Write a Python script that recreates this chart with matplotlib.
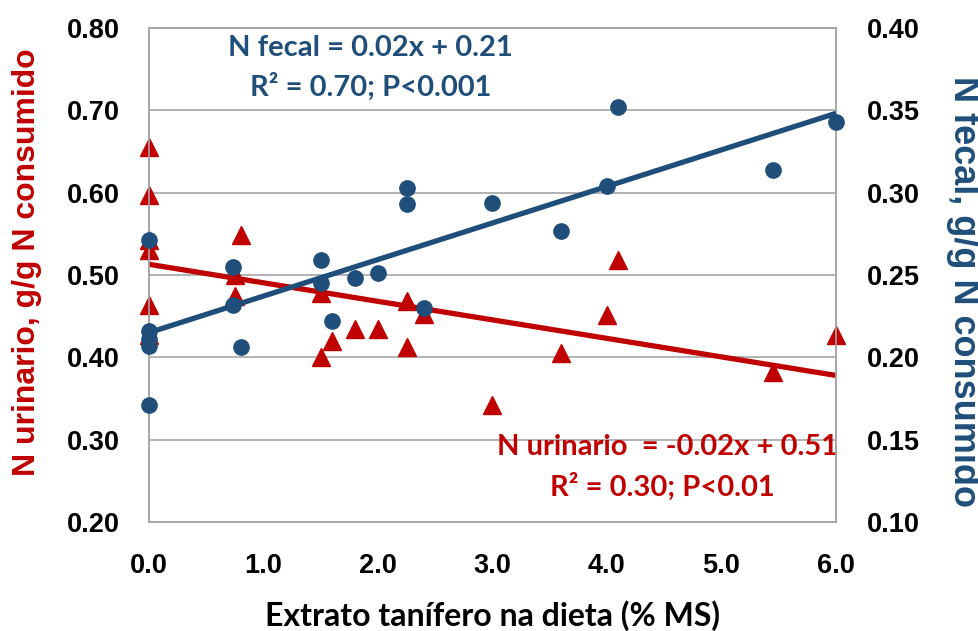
import matplotlib
matplotlib.use("Agg")
import matplotlib.pyplot as plt
import numpy as np

plt.rcParams['font.family'] = ['Lato', 'DejaVu Sans']
plt.rcParams['font.weight'] = 'bold'

# Data
x_urin = [0, 0, 0, 0, 0, 0, 0.75, 0.75, 0.8, 1.5, 1.5, 1.6, 1.8, 2.0, 2.25, 2.25, 2.4,
          3.0, 3.6, 4.0, 4.1, 5.45, 6.0]
y_urin = [0.655, 0.597, 0.542, 0.530, 0.463, 0.427, 0.500, 0.475, 0.548, 0.478, 0.400,
          0.420, 0.435, 0.435, 0.469, 0.412, 0.453, 0.342, 0.405, 0.451, 0.518, 0.382, 0.427]

x_fec = [0, 0, 0, 0, 0, 0.73, 0.73, 0.8, 1.5, 1.5, 1.6, 1.8, 2.0, 2.25, 2.25, 2.4,
         3.0, 3.6, 4.0, 4.1, 5.45, 6.0]
y_fec = [0.271, 0.216, 0.211, 0.207, 0.171, 0.255, 0.232, 0.206, 0.259, 0.245, 0.222,
         0.248, 0.251, 0.303, 0.293, 0.230, 0.294, 0.277, 0.304, 0.352, 0.314, 0.343]

# Trend lines (slope, intercept) as drawn in the reference
urin_fit = (-0.0225, 0.513)
fec_fit = (0.0222, 0.215)

x_ticks = [0, 1, 2, 3, 4, 5, 6]
y_left_ticks = [0.2, 0.3, 0.4, 0.5, 0.6, 0.7, 0.8]
y_right_ticks = [0.10, 0.15, 0.20, 0.25, 0.30, 0.35, 0.40]

RED = '#C00000'
BLUE = '#1F4E7A'
GRID = '#A6A6A6'
ARIAL = ['Liberation Sans', 'DejaVu Sans']

fig = plt.figure(figsize=(9.79, 6.31), dpi=100)
ax = fig.add_axes([149/979, 1-522/631, 687/979, 494/631])
ax2 = ax.twinx()

ax.set_xlim(0, 6)
ax.set_ylim(0.2, 0.8)
ax2.set_ylim(0.1, 0.4)

tick_kw = dict(family=ARIAL, fontsize=19.5, fontweight='bold')
ax.set_xticks(x_ticks)
ax.set_xticklabels([f"{v:.1f}" for v in x_ticks], **tick_kw)
ax.set_yticks(y_left_ticks)
ax.set_yticklabels([f"{v:.2f}" for v in y_left_ticks], **tick_kw)
ax2.set_yticks(y_right_ticks)
ax2.set_yticklabels([f"{v:.2f}" for v in y_right_ticks], **tick_kw)

ax.grid(axis='y', color=GRID, linewidth=1.2)
ax.set_axisbelow(True)
for a in (ax, ax2):
    for s in a.spines.values():
        s.set_color(GRID)
        s.set_linewidth(1.2)
ax.tick_params(axis='both', length=0)
ax.tick_params(axis='y', pad=21)
ax.tick_params(axis='x', pad=22)
ax2.tick_params(axis='y', length=0, pad=22)

# Urinary N (left axis)
ax.plot(x_urin, y_urin, linestyle='none', marker='^', markersize=12.5,
        color=RED, clip_on=False, zorder=3)
xl = np.array([0, 6])
ax.plot(xl, urin_fit[0]*xl + urin_fit[1], color=RED, linewidth=3.8,
        solid_capstyle='butt', zorder=4)

# Fecal N (right axis)
ax2.plot(x_fec, y_fec, linestyle='none', marker='o', markersize=11,
         color=BLUE, clip_on=False, zorder=3)
ax2.plot(xl, fec_fit[0]*xl + fec_fit[1], color=BLUE, linewidth=3.8,
         solid_capstyle='butt', zorder=4)

ax.set_ylabel("N urinario, g/g N consumido", color=RED, fontsize=23,
              fontweight='bold', family=ARIAL, va='center')
ax.yaxis.set_label_coords(-0.178, 0.526)
ax2.set_ylabel("N fecal, g/g N consumido", color=BLUE, fontsize=26,
               fontweight='bold', family=ARIAL, rotation=270, va='center')
ax2.yaxis.set_label_coords(1.185, 0.466)
ax.set_xlabel("Extrato tanífero na dieta (% MS)", fontsize=23, fontweight='bold',
              va='center')
ax.xaxis.set_label_coords(0.5, -0.19)

ann_kw = dict(transform=ax.transAxes, fontsize=21, fontweight='bold',
              ha='center', va='center')
ax.text(0.323, 0.9595, "N fecal = 0.02x + 0.21", color=BLUE, **ann_kw)
ax.text(0.323, 0.8816, "R² = 0.70; P<0.001", color=BLUE, **ann_kw)
ax.text(0.755, 0.1518, "N urinario  = -0.02x + 0.51", color=RED, **ann_kw)
ax.text(0.7467, 0.0709, "R² = 0.30; P<0.01", color=RED, **ann_kw)

fig.savefig("out.png", dpi=100)
